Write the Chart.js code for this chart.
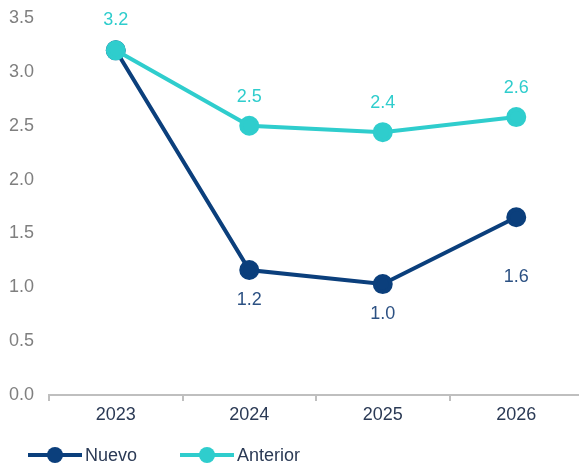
<!DOCTYPE html>
<html>
<head>
<meta charset="utf-8">
<script src="https://cdn.jsdelivr.net/npm/chart.js@4"></script>
<style>
  html, body { margin: 0; padding: 0; background: #fff; overflow: hidden; }
  canvas { display: block; }
</style>
</head>
<body>
<canvas id="myChart" width="583" height="466"></canvas>
<script>
const years = ['2023', '2024', '2025', '2026']
const nuevo = [3.2, 1.16, 1.03, 1.65]
const anterior = [3.2, 2.5, 2.44, 2.58]
const nuevoLabels = ['', '1.2', '1.0', '1.6']
const anteriorLabels = ['3.2', '2.5', '2.4', '2.6']

const navy = '#0b3f7c'
const teal = '#2fcdcd'
const font = "'Liberation Sans', Arial, sans-serif"

// value labels next to each point
const valueLabels = {
    id: 'valueLabels',
    afterDatasetsDraw(chart) {
        const c = chart.ctx
        c.save()
        c.font = '18px ' + font
        c.textAlign = 'center'
        c.textBaseline = 'middle'
        chart.data.datasets.forEach((ds, i) => {
            const meta = chart.getDatasetMeta(i)
            meta.data.forEach((pt, j) => {
                const txt = ds.valueText[j]
                if (!txt) return
                c.fillStyle = ds.labelColor
                c.fillText(txt, pt.x, pt.y + ds.labelShift[j])
            })
        })
        c.restore()
    }
}

// legend with line + circle marker at the bottom
const lineLegend = {
    id: 'lineLegend',
    afterDraw(chart) {
        const c = chart.ctx
        const y = 455
        const items = [
            {x: 28, text: 'Nuevo', color: navy},
            {x: 180, text: 'Anterior', color: teal}
        ]
        c.save()
        c.font = '18px ' + font
        c.textBaseline = 'middle'
        items.forEach(it => {
            c.strokeStyle = it.color
            c.lineWidth = 4
            c.beginPath()
            c.moveTo(it.x, y)
            c.lineTo(it.x + 54, y)
            c.stroke()
            c.fillStyle = it.color
            c.beginPath()
            c.arc(it.x + 27, y, 8, 0, Math.PI * 2)
            c.fill()
            c.fillStyle = '#2b3a55'
            c.fillText(it.text, it.x + 57, y + 1)
        })
        c.restore()
    }
}

const data = {
    labels: years,
    datasets: [{
        label: 'Nuevo',
        data: nuevo,
        order: 1,
        valueText: nuevoLabels,
        labelShift: [0, 30, 30, 60],
        labelColor: '#2c5183',
        borderColor: navy,
        backgroundColor: navy,
        borderWidth: 4,
        pointRadius: 8,
        pointHoverRadius: 8,
        tension: 0
    }, {
        label: 'Anterior',
        data: anterior,
        order: 0,
        valueText: anteriorLabels,
        labelShift: [-30, -29, -29, -29],
        labelColor: teal,
        borderColor: teal,
        backgroundColor: teal,
        borderWidth: 4,
        pointRadius: 8,
        pointHoverRadius: 8,
        tension: 0
    }]
}

const config = {
    type: 'line',
    data: data,
    options: {
        responsive: false,
        animation: false,
        layout: { autoPadding: false, padding: { top: 18, bottom: 40, left: 0, right: 0 } },
        plugins: {
            legend: { display: false },
            tooltip: { enabled: false }
        },
        scales: {
            x: {
                offset: true,
                grid: {
                    display: true,
                    drawOnChartArea: false,
                    drawTicks: true,
                    tickLength: 6,
                    color: '#bfbfbf',
                    lineWidth: 2,
                    offset: true
                },
                border: { display: true, color: '#bfbfbf', width: 2 },
                ticks: {
                    color: '#2b3a55',
                    font: { size: 18, family: font },
                    padding: 3
                },
                afterFit(scale) {
                    scale.height = 31
                    scale.paddingLeft = 0
                    scale.paddingRight = 0
                }
            },
            y: {
                min: 0,
                max: 3.5,
                grid: { display: false, drawTicks: false },
                border: { display: false },
                ticks: {
                    stepSize: 0.5,
                    color: '#7f7f7f',
                    font: { size: 18, family: font },
                    padding: 15,
                    callback: v => v.toFixed(1)
                },
                afterFit(scale) {
                    scale.width = 49
                    scale.paddingTop = 0
                    scale.paddingBottom = 0
                }
            }
        }
    },
    plugins: [valueLabels, lineLegend]
}

const chart = new Chart(document.getElementById('myChart'), config)
</script>
</body>
</html>
